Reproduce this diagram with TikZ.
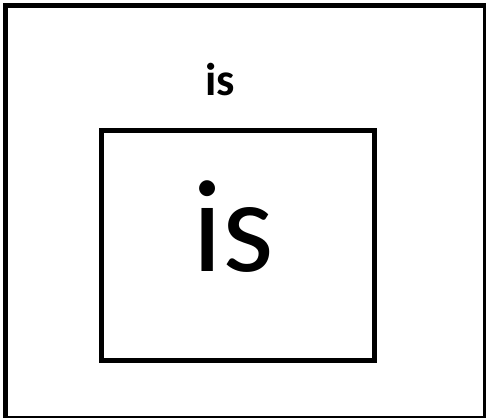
\documentclass[tikz,border=0pt]{standalone}
\usepackage{fontspec}
\setmainfont{Carlito}
\tikzset{
  frame/.style={draw=black, line width=4.7pt, inner sep=0pt, outer sep=0pt, anchor=north west},
  label/.style={inner sep=0pt, anchor=base, text=black}
}
\begin{document}
\begin{tikzpicture}[x=1pt,y=-1pt]
\useasboundingbox (0,0) rectangle (486,417);
\fill[white] (0,0) rectangle (486,417);
\node[frame, minimum width=480pt, minimum height=412.8pt] (outer) at (5.7,5.2) {};
\node[frame, minimum width=272.3pt, minimum height=229.2pt, line width=5pt] (inner) at (101.7,130.8) {};
\node[label, font=\fontsize{46}{46}\selectfont\bfseries] (small) at (220,95.7) {is};
\node[label, font=\fontsize{132}{132}\selectfont] (big) at (233,271.7) {is};
\end{tikzpicture}
\end{document}
